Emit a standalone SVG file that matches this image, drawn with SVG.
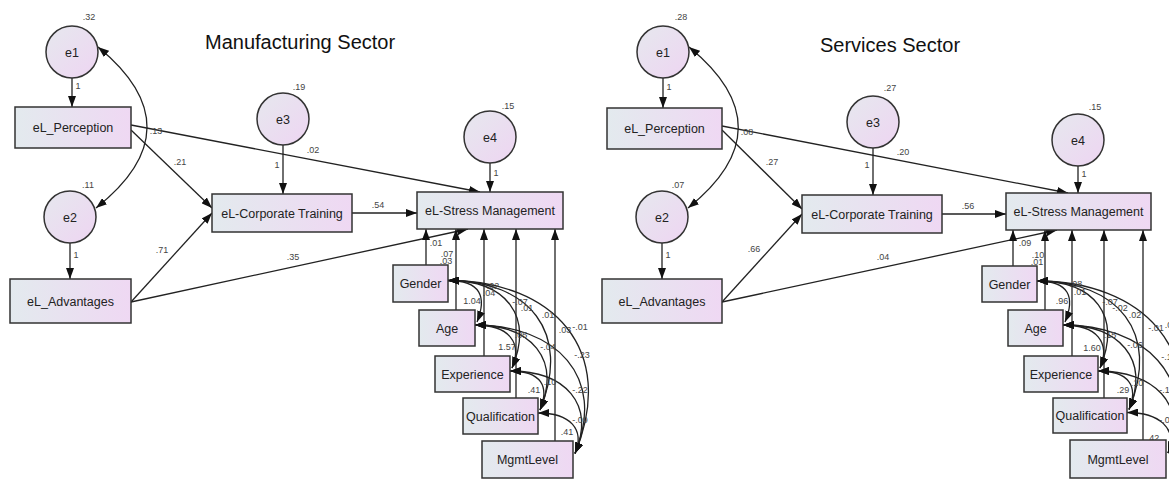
<svg xmlns="http://www.w3.org/2000/svg" width="1169" height="480" viewBox="0 0 1169 480">
<style>
.nbox{fill:url(#boxg);stroke:#333;stroke-width:1.5}
.ncir{fill:url(#cirg);stroke:#333;stroke-width:1.5}
.nt{font-family:"Liberation Sans",Arial,sans-serif;font-size:12.5px;fill:#222;text-anchor:middle}
.lb{font-family:"Liberation Sans",Arial,sans-serif;font-size:9px;fill:#444;text-anchor:middle}
.title{font-family:"Liberation Sans",Arial,sans-serif;font-size:20px;fill:#111}
.ar{fill:none;stroke:#222;stroke-width:1.3;marker-end:url(#ah)}
.cv{fill:none;stroke:#222;stroke-width:1.3;marker-start:url(#ah);marker-end:url(#ah)}
</style>
<defs>
<linearGradient id="boxg" x1="0" y1="0" x2="1" y2="0">
<stop offset="0" stop-color="#e3eaee"/>
<stop offset="1" stop-color="#efd8f3"/>
</linearGradient>
<linearGradient id="cirg" x1="0" y1="0" x2="1" y2="1">
<stop offset="0" stop-color="#e6e8ee"/>
<stop offset="1" stop-color="#eed5f2"/>
</linearGradient>
<marker id="ah" markerUnits="userSpaceOnUse" markerWidth="11" markerHeight="8" refX="11" refY="4" orient="auto-start-reverse" viewBox="0 0 11 8">
<path d="M0,0 L11,4 L0,8 z" fill="#111"/>
</marker>
</defs>
<rect width="1169" height="480" fill="#fff"/>
<text class="title" x="205" y="49">Manufacturing Sector</text>
<text class="title" x="820" y="52">Services Sector</text>

<g id="connectors">
<!-- left -->
<line class="ar" x1="72" y1="78" x2="72" y2="107"/>
<line class="ar" x1="70" y1="243" x2="70" y2="279"/>
<line class="ar" x1="283" y1="145" x2="283" y2="194"/>
<line class="ar" x1="490" y1="163" x2="490" y2="192"/>
<line class="ar" x1="131" y1="130" x2="212" y2="208"/>
<line class="ar" x1="131" y1="125" x2="480" y2="192"/>
<line class="ar" x1="131" y1="302" x2="212" y2="213"/>
<line class="ar" x1="131" y1="302" x2="468" y2="229"/>
<line class="ar" x1="352" y1="213" x2="417" y2="213"/>
<line class="ar" x1="426" y1="265" x2="426" y2="229"/>
<line class="ar" x1="456" y1="310" x2="456" y2="229"/>
<line class="ar" x1="484" y1="356" x2="484" y2="229"/>
<line class="ar" x1="516" y1="398" x2="516" y2="229"/>
<line class="ar" x1="555" y1="441" x2="555" y2="229"/>
<path class="cv" d="M98,47 Q197,128 96,208"/>
<path class="cv" d="M448,280.5 C481,280.5 487,297 477,322"/>
<path class="cv" d="M448,280.5 C506,280.5 534,315.5 512,368"/>
<path class="cv" d="M448,280.5 C529,280.5 572,332 540,410"/>
<path class="cv" d="M448,280.5 C553,280.5 618,349.5 575,453.5"/>
<path class="cv" d="M475,325 C508.7,325 522.75,342.2 512,368"/>
<path class="cv" d="M475,325 C531.75,325 561.25,359 540,410"/>
<path class="cv" d="M475,325 C555.7,325 607,376.4 575,453.5"/>
<path class="cv" d="M510,371 C541.5,371 549.75,386.6 540,410"/>
<path class="cv" d="M510,371 C565.4,371 595.6,404 575,453.5"/>
<path class="cv" d="M538,413 C570.3,413 585,429.2 575,453.5"/>
<!-- right -->
<line class="ar" x1="663" y1="78" x2="663" y2="108"/>
<line class="ar" x1="662" y1="243" x2="662" y2="279"/>
<line class="ar" x1="873" y1="148" x2="873" y2="195"/>
<line class="ar" x1="1078" y1="166" x2="1078" y2="193"/>
<line class="ar" x1="722" y1="130" x2="802" y2="209"/>
<line class="ar" x1="722" y1="126" x2="1068" y2="193"/>
<line class="ar" x1="722" y1="302" x2="802" y2="214"/>
<line class="ar" x1="722" y1="302" x2="1057" y2="230"/>
<line class="ar" x1="942" y1="214" x2="1006" y2="214"/>
<line class="ar" x1="1013" y1="266" x2="1013" y2="230"/>
<line class="ar" x1="1045" y1="310" x2="1045" y2="230"/>
<line class="ar" x1="1072" y1="356" x2="1072" y2="230"/>
<line class="ar" x1="1104" y1="398" x2="1104" y2="230"/>
<line class="ar" x1="1143" y1="440" x2="1143" y2="230"/>
<path class="cv" d="M689,47 Q788,128 688,208"/>
<path class="cv" d="M1037,281 C1069.5,281 1075.25,297.4 1065,322"/>
<path class="cv" d="M1037,281 C1094.9,281 1121.75,315.8 1100,368"/>
<path class="cv" d="M1037,281 C1117.7,281 1161.1,332.4 1129,409.5"/>
<path class="cv" d="M1037,281 C1141.6,281 1211,349.8 1168,453"/>
<path class="cv" d="M1063,325 C1096.65,325 1110.75,342.2 1100,368"/>
<path class="cv" d="M1063,325 C1119.5,325 1150.1,358.8 1129,409.5"/>
<path class="cv" d="M1063,325 C1143.4,325 1200,376.2 1168,453"/>
<path class="cv" d="M1098,371 C1129.2,371 1138.6,386.4 1129,409.5"/>
<path class="cv" d="M1098,371 C1153.1,371 1188.5,403.8 1168,453"/>
<path class="cv" d="M1127,412.5 C1159.3,412.5 1178.1,428.7 1168,453"/>
</g>

<g id="edge-labels">
<!-- left -->
<text class="lb" x="89" y="20">.32</text>
<text class="lb" x="78" y="89">1</text>
<text class="lb" x="88" y="188">.11</text>
<text class="lb" x="76" y="258">1</text>
<text class="lb" x="299" y="90">.19</text>
<text class="lb" x="277" y="168">1</text>
<text class="lb" x="508" y="109">.15</text>
<text class="lb" x="496" y="176">1</text>
<text class="lb" x="156" y="134">.13</text>
<text class="lb" x="313" y="153">.02</text>
<text class="lb" x="180" y="165">.21</text>
<text class="lb" x="162" y="253">.71</text>
<text class="lb" x="293" y="260">.35</text>
<text class="lb" x="378" y="208">.54</text>
<text class="lb" x="436" y="246">.01</text>
<text class="lb" x="447" y="257">.07</text>
<text class="lb" x="446" y="264">.03</text>
<text class="lb" x="472" y="304">1.04</text>
<text class="lb" x="493" y="289">.02</text>
<text class="lb" x="489" y="296">.04</text>
<text class="lb" x="520" y="305">-.07</text>
<text class="lb" x="527" y="311">.01</text>
<text class="lb" x="548" y="318">.01</text>
<text class="lb" x="565" y="333">.03</text>
<text class="lb" x="580" y="330">-.01</text>
<text class="lb" x="521" y="338">.05</text>
<text class="lb" x="507" y="350">1.57</text>
<text class="lb" x="548" y="350">-.04</text>
<text class="lb" x="582" y="358">-.23</text>
<text class="lb" x="534" y="393">.41</text>
<text class="lb" x="550" y="385">.10</text>
<text class="lb" x="580" y="393">-.22</text>
<text class="lb" x="580" y="423">-.09</text>
<text class="lb" x="567" y="435">.41</text>
<!-- right -->
<text class="lb" x="681" y="20">.28</text>
<text class="lb" x="669" y="90">1</text>
<text class="lb" x="678" y="188">.07</text>
<text class="lb" x="668" y="258">1</text>
<text class="lb" x="890" y="91">.27</text>
<text class="lb" x="867" y="168">1</text>
<text class="lb" x="1095" y="110">.15</text>
<text class="lb" x="1084" y="177">1</text>
<text class="lb" x="747" y="135">.08</text>
<text class="lb" x="903" y="155">.20</text>
<text class="lb" x="772" y="165">.27</text>
<text class="lb" x="754" y="252">.66</text>
<text class="lb" x="883" y="260">.04</text>
<text class="lb" x="968" y="209">.56</text>
<text class="lb" x="1025" y="246">.09</text>
<text class="lb" x="1038" y="258">.10</text>
<text class="lb" x="1037" y="265">.01</text>
<text class="lb" x="1062" y="304">.96</text>
<text class="lb" x="1076" y="287">.08</text>
<text class="lb" x="1080" y="295">.01</text>
<text class="lb" x="1110" y="305">-.07</text>
<text class="lb" x="1120" y="311">-.02</text>
<text class="lb" x="1135" y="318">.02</text>
<text class="lb" x="1156" y="331">-.01</text>
<text class="lb" x="1171" y="328">.01</text>
<text class="lb" x="1110" y="338">.15</text>
<text class="lb" x="1092" y="351">1.60</text>
<text class="lb" x="1135" y="348">-.06</text>
<text class="lb" x="1169" y="360">-.14</text>
<text class="lb" x="1123" y="393">.29</text>
<text class="lb" x="1137" y="386">.10</text>
<text class="lb" x="1167" y="393">-.12</text>
<text class="lb" x="1167" y="423">-.09</text>
<text class="lb" x="1153" y="441">.42</text>
</g>

<g id="m-e1"><circle class="ncir" cx="72" cy="52" r="26"/><text class="nt" x="72" y="56.5">e1</text></g>
<g id="m-e2"><circle class="ncir" cx="70" cy="217" r="26"/><text class="nt" x="70" y="221.5">e2</text></g>
<g id="m-e3"><circle class="ncir" cx="283" cy="119" r="26"/><text class="nt" x="283" y="123.5">e3</text></g>
<g id="m-e4"><circle class="ncir" cx="490" cy="137" r="26"/><text class="nt" x="490" y="141.5">e4</text></g>
<g id="m-perception"><rect class="nbox" x="15" y="107" width="116" height="41"/><text class="nt" x="73" y="132">eL_Perception</text></g>
<g id="m-advantages"><rect class="nbox" x="10" y="279" width="121" height="44"/><text class="nt" x="70.5" y="305.5">eL_Advantages</text></g>
<g id="m-training"><rect class="nbox" x="212" y="194" width="140" height="38"/><text class="nt" x="282" y="217.5">eL-Corporate Training</text></g>
<g id="m-stress"><rect class="nbox" x="417" y="192" width="146" height="37"/><text class="nt" x="490" y="215">eL-Stress Management</text></g>
<g id="m-gender"><rect class="nbox" x="393" y="265" width="55" height="37"/><text class="nt" x="420.5" y="288">Gender</text></g>
<g id="m-age"><rect class="nbox" x="419" y="310" width="56" height="36"/><text class="nt" x="447" y="332.5">Age</text></g>
<g id="m-experience"><rect class="nbox" x="435" y="356" width="75" height="36"/><text class="nt" x="472.5" y="378.5">Experience</text></g>
<g id="m-qualification"><rect class="nbox" x="463" y="398" width="75" height="36"/><text class="nt" x="500.5" y="420.5">Qualification</text></g>
<g id="m-mgmtlevel"><rect class="nbox" x="482" y="441" width="91" height="37"/><text class="nt" x="527.5" y="464">MgmtLevel</text></g>

<g id="s-e1"><circle class="ncir" cx="663" cy="52" r="26"/><text class="nt" x="663" y="56.5">e1</text></g>
<g id="s-e2"><circle class="ncir" cx="662" cy="217" r="26"/><text class="nt" x="662" y="221.5">e2</text></g>
<g id="s-e3"><circle class="ncir" cx="873" cy="122" r="26"/><text class="nt" x="873" y="126.5">e3</text></g>
<g id="s-e4"><circle class="ncir" cx="1078" cy="140" r="26"/><text class="nt" x="1078" y="144.5">e4</text></g>
<g id="s-perception"><rect class="nbox" x="607" y="108" width="115" height="41"/><text class="nt" x="664.5" y="133">eL_Perception</text></g>
<g id="s-advantages"><rect class="nbox" x="602" y="279" width="120" height="44"/><text class="nt" x="662" y="305.5">eL_Advantages</text></g>
<g id="s-training"><rect class="nbox" x="802" y="195" width="140" height="38"/><text class="nt" x="872" y="218.5">eL-Corporate Training</text></g>
<g id="s-stress"><rect class="nbox" x="1006" y="193" width="145" height="37"/><text class="nt" x="1078.5" y="216">eL-Stress Management</text></g>
<g id="s-gender"><rect class="nbox" x="982" y="266" width="55" height="36"/><text class="nt" x="1009.5" y="288.5">Gender</text></g>
<g id="s-age"><rect class="nbox" x="1008" y="310" width="55" height="36"/><text class="nt" x="1035.5" y="332.5">Age</text></g>
<g id="s-experience"><rect class="nbox" x="1024" y="356" width="74" height="36"/><text class="nt" x="1061" y="378.5">Experience</text></g>
<g id="s-qualification"><rect class="nbox" x="1053" y="398" width="74" height="35"/><text class="nt" x="1090" y="420">Qualification</text></g>
<g id="s-mgmtlevel"><rect class="nbox" x="1070" y="440" width="96" height="38"/><text class="nt" x="1118" y="463.5">MgmtLevel</text></g>
</svg>
